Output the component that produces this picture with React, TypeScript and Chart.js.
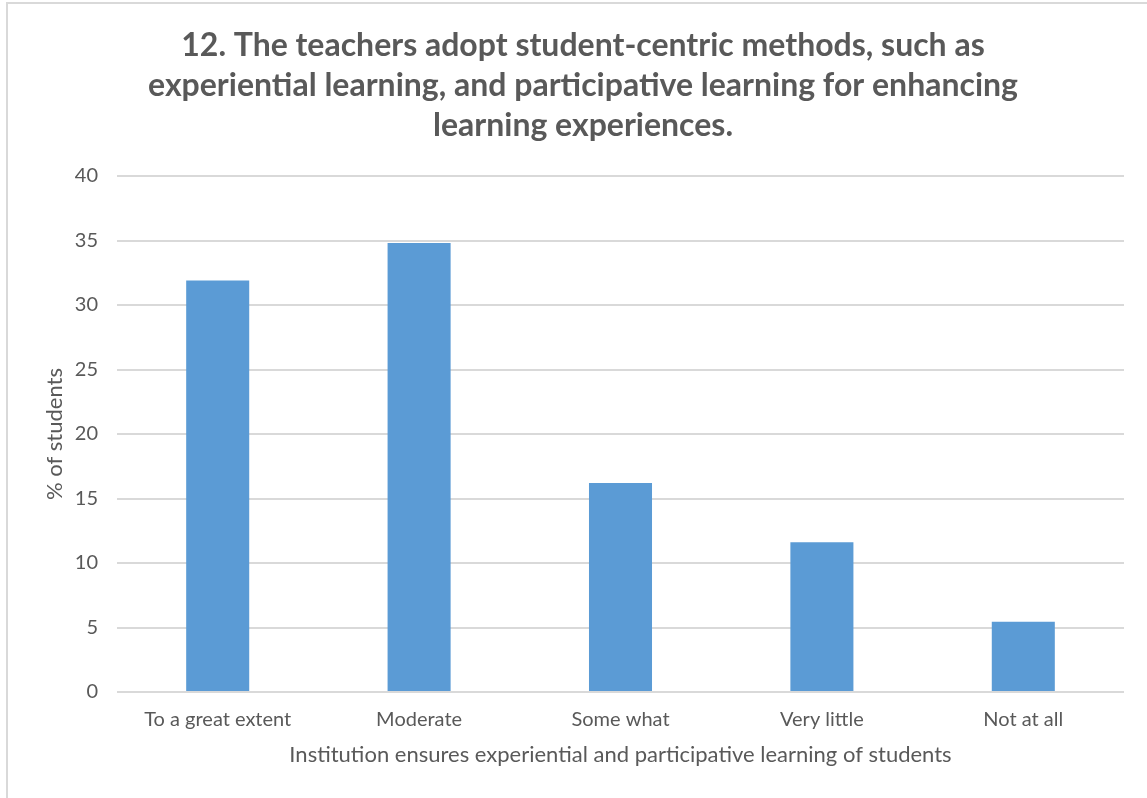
import React, { useEffect, useRef } from "react";
import { Chart, registerables } from "chart.js";

Chart.register(...registerables);

const categories = ["To a great extent", "Moderate", "Some what", "Very little", "Not at all"];
const percentStudents = [31.9, 34.8, 16.2, 11.6, 5.45];
const yTicks = [0, 5, 10, 15, 20, 25, 30, 35, 40];
const titleLines = [
  "12. The teachers adopt student-centric methods, such as",
  "experiential learning, and participative learning for enhancing",
  "learning experiences.",
];
const xTitle = "Institution ensures experiential and participative learning of students";
const yTitle = "% of students";

export default function App() {
  const ref = useRef<HTMLCanvasElement | null>(null);
  useEffect(() => {
    if (!ref.current) return;
    const chart = new Chart(ref.current, {
      type: "bar",
      data: {
        labels: categories,
        datasets: [
          {
            data: percentStudents,
            backgroundColor: "#5b9bd5",
            borderWidth: 0,
            barPercentage: 0.313,
            categoryPercentage: 1,
          },
        ],
      },
      options: {
        responsive: false,
        animation: false,
        layout: { padding: { left: 42, right: 23, top: 0, bottom: 30 } },
        plugins: {
          legend: { display: false },
          tooltip: { enabled: false },
          title: {
            display: true,
            text: titleLines,
            color: "#595959",
            font: { family: "Lato", size: 32, weight: "bold", lineHeight: 1.25 },
            padding: { top: 26, bottom: 30 },
          },
        },
        scales: {
          x: {
            grid: { display: false, drawTicks: false },
            border: { display: false },
            afterFit: (axis: any) => {
              axis.height = 76;
            },
            ticks: {
              color: "#595959",
              font: { family: "Lato", size: 20 },
              padding: 16,
              maxRotation: 0,
              autoSkip: false,
            },
            title: {
              display: true,
              text: xTitle,
              color: "#595959",
              font: { family: "Lato", size: 22 },
              padding: { top: 0, bottom: 0 },
            },
          },
          y: {
            min: 0,
            max: 40,
            afterBuildTicks: (axis: any) => {
              axis.ticks = yTicks.map((v) => ({ value: v }));
            },
            afterFit: (axis: any) => {
              axis.width = 75;
            },
            grid: { color: "#d9d9d9", lineWidth: 2, drawTicks: false },
            border: { display: false },
            ticks: {
              color: "#595959",
              font: { family: "Lato", size: 20 },
              padding: 19,
            },
            title: {
              display: true,
              text: yTitle,
              color: "#595959",
              font: { family: "Lato", size: 22 },
              padding: { top: 0, bottom: 7 },
            },
          },
        },
      },
    });
    return () => chart.destroy();
  }, []);
  return (
    <div
      style={{
        position: "absolute",
        left: 0,
        top: 0,
        width: 1147,
        height: 798,
        background: "#ffffff",
        overflow: "hidden",
      }}
    >
      <canvas
        ref={ref}
        width={1147}
        height={798}
        style={{ position: "absolute", left: 0, top: 0, width: 1147, height: 798 }}
      />
      <div
        style={{
          position: "absolute",
          left: 6,
          top: 2,
          width: 1300,
          height: 1000,
          border: "2px solid #d9d9d9",
          pointerEvents: "none",
        }}
      />
    </div>
  );
}
